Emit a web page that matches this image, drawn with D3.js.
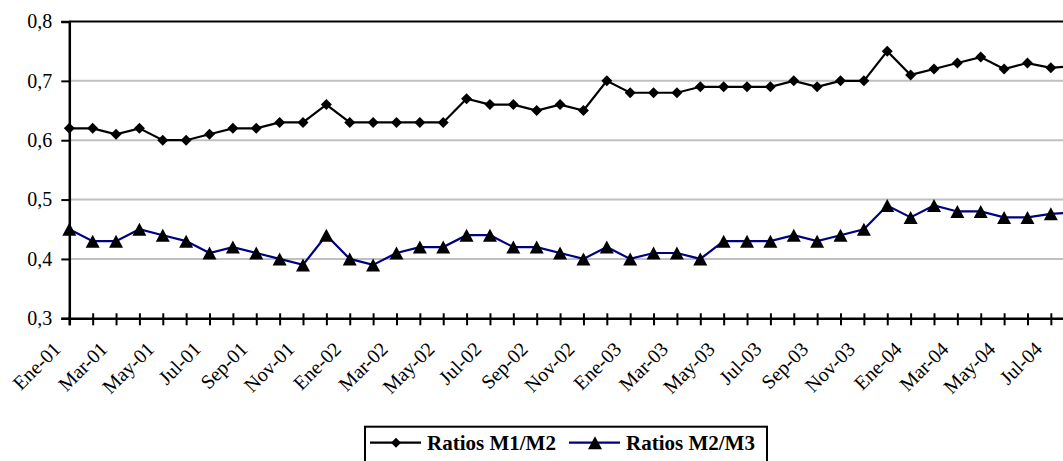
<!DOCTYPE html>
<html>
<head>
<meta charset="utf-8">
<script src="https://cdn.jsdelivr.net/npm/d3@7"></script>
<style>
  html, body { margin: 0; padding: 0; background: #fff; }
  svg, svg text { font-family: 'Liberation Serif', 'Times New Roman', Times, serif !important; }
</style>
</head>
<body>
<svg id="chart" width="1063" height="461"></svg>
<script>
// ---- Data ----
const monthNames = ["Ene","Feb","Mar","Abr","May","Jun","Jul","Ago","Sep","Oct","Nov","Dic"];
const years = ["01","02","03","04"];
const categories = [];
years.forEach(y => monthNames.forEach(m => categories.push(m + "-" + y)));
categories.splice(44); // Ene-01 .. Ago-04

const ratioM1M2 = [0.62,0.62,0.61,0.62,0.60,0.60,0.61,0.62,0.62,0.63,0.63,0.66,
                   0.63,0.63,0.63,0.63,0.63,0.67,0.66,0.66,0.65,0.66,0.65,0.70,
                   0.68,0.68,0.68,0.69,0.69,0.69,0.69,0.70,0.69,0.70,0.70,0.75,
                   0.71,0.72,0.73,0.74,0.72,0.73,0.722,0.725];
const ratioM2M3 = [0.45,0.43,0.43,0.45,0.44,0.43,0.41,0.42,0.41,0.40,0.39,0.44,
                   0.40,0.39,0.41,0.42,0.42,0.44,0.44,0.42,0.42,0.41,0.40,0.42,
                   0.40,0.41,0.41,0.40,0.43,0.43,0.43,0.44,0.43,0.44,0.45,0.49,
                   0.47,0.49,0.48,0.48,0.47,0.47,0.476,0.478];
const yTicks = [0.3,0.4,0.5,0.6,0.7,0.8];
const seriesNames = ["Ratios M1/M2","Ratios M2/M3"];

(function () {
const FONT = "'Liberation Serif', 'Times New Roman', Times, serif";
// ---- Layout ----
const pLeft = 69.3, pTop = 21.5, pBottom = 318.3;
const step = 23.37;
const pRight = pLeft + step * (categories.length - 1);

const svg = d3.select("#chart");
const x = d3.scalePoint().domain(categories).range([pLeft, pRight]);
const y = d3.scaleLinear().domain([0.3, 0.8]).range([pBottom, pTop]);

// gridlines
svg.append("g").selectAll("line").data(yTicks.filter(d => d > 0.3 && d < 0.8)).join("line")
  .attr("x1", pLeft).attr("x2", pRight)
  .attr("y1", d => y(d)).attr("y2", d => y(d))
  .attr("stroke", "#c0c0c0").attr("stroke-width", 2);

// top border
svg.append("line").attr("x1", pLeft).attr("x2", pRight + 10).attr("y1", pTop).attr("y2", pTop)
  .attr("stroke", "#000").attr("stroke-width", 2);

// Y axis
const yAxis = d3.axisLeft(y).tickValues(yTicks).tickSize(8).tickPadding(9)
  .tickFormat(d => d.toFixed(1).replace(".", ","));
const gy = svg.append("g").attr("transform", `translate(${pLeft},0)`).call(yAxis)
  .attr("font-family", null).style("font-family", FONT);
gy.select(".domain").attr("stroke", "#000").attr("stroke-width", 2.5);
gy.selectAll(".tick line").attr("stroke", "#000").attr("stroke-width", 2);
gy.selectAll(".tick text").attr("font-size", 20).attr("fill", "#000").style("font-family", FONT);

// X axis
const xAxis = d3.axisBottom(x).tickSize(7).tickFormat(d => d);
const gx = svg.append("g").attr("transform", `translate(0,${pBottom})`).call(xAxis)
  .attr("font-family", null).style("font-family", FONT);
gx.select(".domain").attr("stroke", "#000").attr("stroke-width", 2.5);
gx.selectAll(".tick line").attr("y1", -5).attr("y2", 7).attr("stroke", "#000").attr("stroke-width", 2);
gx.selectAll(".tick text")
  .style("display", (d, i) => i % 2 === 0 ? null : "none")
  .attr("font-size", 20).attr("fill", "#000").style("font-family", FONT)
  .attr("text-anchor", "end")
  .attr("y", 0).attr("dy", 0)
  .attr("transform", "translate(-8,32) rotate(-45)");

// lines
const line = d3.line().x((d, i) => x(categories[i])).y(d => y(d));
svg.append("path").datum(ratioM2M3).attr("d", line)
  .attr("fill", "none").attr("stroke", "#000080").attr("stroke-width", 2.2);
svg.append("path").datum(ratioM1M2).attr("d", line)
  .attr("fill", "none").attr("stroke", "#000").attr("stroke-width", 2.2);

// markers
const diamond = s => `M0,${-s}L${s},0L0,${s}L${-s},0Z`;
const tri = (w, h) => `M0,${-h/2}L${w/2},${h/2}L${-w/2},${h/2}Z`;
svg.append("g").selectAll("path").data(ratioM1M2).join("path")
  .attr("d", diamond(5.5))
  .attr("transform", (d, i) => `translate(${x(categories[i])},${y(d)})`)
  .attr("fill", "#000");
svg.append("g").selectAll("path").data(ratioM2M3).join("path")
  .attr("d", tri(14, 13))
  .attr("transform", (d, i) => `translate(${x(categories[i])},${y(d)})`)
  .attr("fill", "#000");

// legend
const lg = svg.append("g");
lg.append("rect").attr("x", 365).attr("y", 426.7).attr("width", 402).attr("height", 60)
  .attr("fill", "#fff").attr("stroke", "#000").attr("stroke-width", 2);
const items = [
  { name: seriesNames[0], x0: 370, color: "#000", marker: diamond(5) },
  { name: seriesNames[1], x0: 569, color: "#000080", marker: tri(14, 13) }
];
const ly = 442.7;
items.forEach(it => {
  lg.append("line").attr("x1", it.x0).attr("x2", it.x0 + 51).attr("y1", ly).attr("y2", ly)
    .attr("stroke", it.color).attr("stroke-width", 2.2);
  lg.append("path").attr("d", it.marker).attr("transform", `translate(${it.x0 + 26},${ly})`).attr("fill", "#000");
  lg.append("text").attr("x", it.x0 + 57).attr("y", ly).attr("dy", "0.35em")
    .attr("font-size", 21).attr("font-weight", "bold").attr("fill", "#000")
    .style("font-family", FONT).text(it.name);
});
})();
</script>
</body>
</html>
